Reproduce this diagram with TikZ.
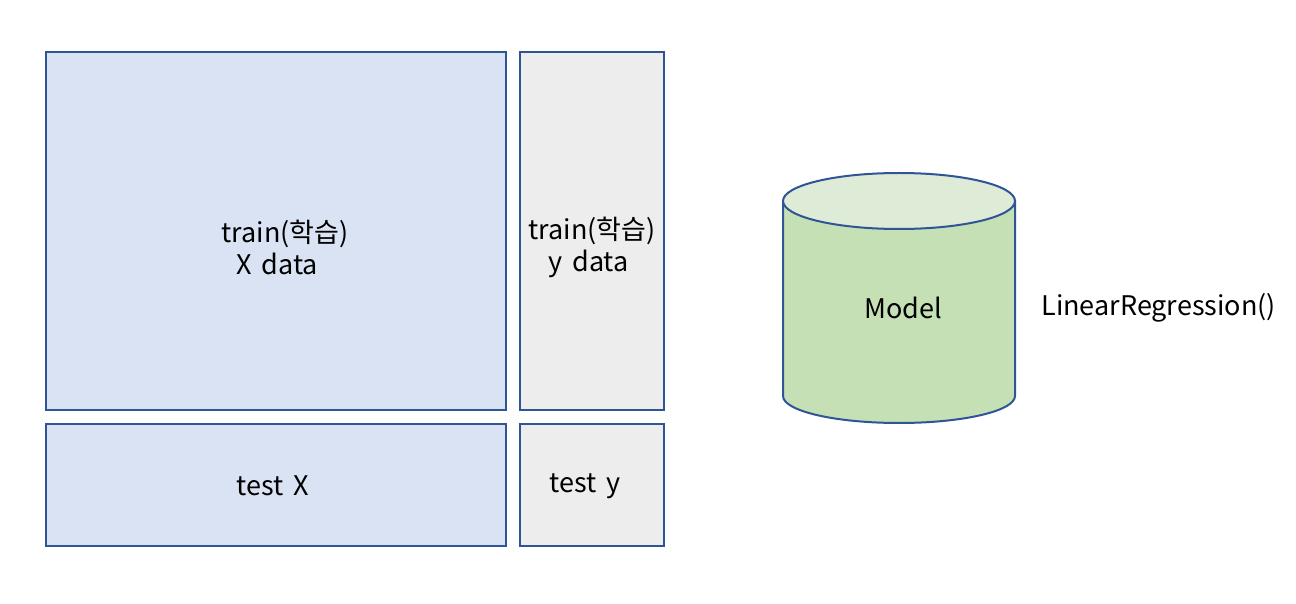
\documentclass[tikz,border=0pt]{standalone}
\usepackage{fontspec}
\setmainfont[WordSpace = 1.6]{Noto Sans CJK KR}
\definecolor{edgeblue}{HTML}{2F5597}
\definecolor{xfill}{HTML}{DAE3F3}
\definecolor{yfill}{HTML}{EDEDED}
\definecolor{cylside}{HTML}{C5E0B4}
\definecolor{cyltop}{HTML}{DEEBD6}
\tikzset{
    databox/.style = {draw = edgeblue, line width = 1pt, anchor = north west, inner sep = 0pt},
    xbox/.style = {databox, fill = xfill},
    ybox/.style = {databox, fill = yfill},
    lbl/.style = {font = \fontsize{13.5}{16}\selectfont, inner sep = 0pt}
}
\begin{document}
\begin{tikzpicture}[x = 0.5pt, y = 0.5pt]
                \useasboundingbox (0,0) rectangle (1296,-604);
                \node[xbox, minimum width = 230pt, minimum height = 179pt] (trainX) at (45,-51) {};
                \node[ybox, minimum width = 72pt, minimum height = 179pt] (trainY) at (519,-51) {};
                \node[xbox, minimum width = 230pt, minimum height = 61pt] (testX) at (45,-423) {};
                \node[ybox, minimum width = 72pt, minimum height = 61pt] (testY) at (519,-423) {};
                \node[lbl, align = left] (trainXtext) at (285,-247) {train(학습)\\\hspace{7.5pt}X data};
                \node[lbl, align = left] (trainYtext) at (592,-247) {train(학습)\\\hspace{10pt}y data};
                \node[lbl] (testXtext) at (273,-486) {test X};
                \node[lbl] (testYtext) at (585,-486) {test y};
                \begin{scope}[draw = edgeblue, line width = 1pt]
                    \filldraw[fill = cylside] (783,-201) -- (783,-396) arc[start angle = 180, end angle = 360, x radius = 58pt, y radius = 13.5pt] -- (1015,-201) -- cycle;
                    \filldraw[fill = cyltop] (899,-201) ellipse[x radius = 58pt, y radius = 14pt];
                \end{scope}
                \node[lbl] (model) at (903,-308) {Model};
                \node[lbl, anchor = west] (algo) at (1041,-308) {LinearRegression()};
            \end{tikzpicture}
\end{document}
